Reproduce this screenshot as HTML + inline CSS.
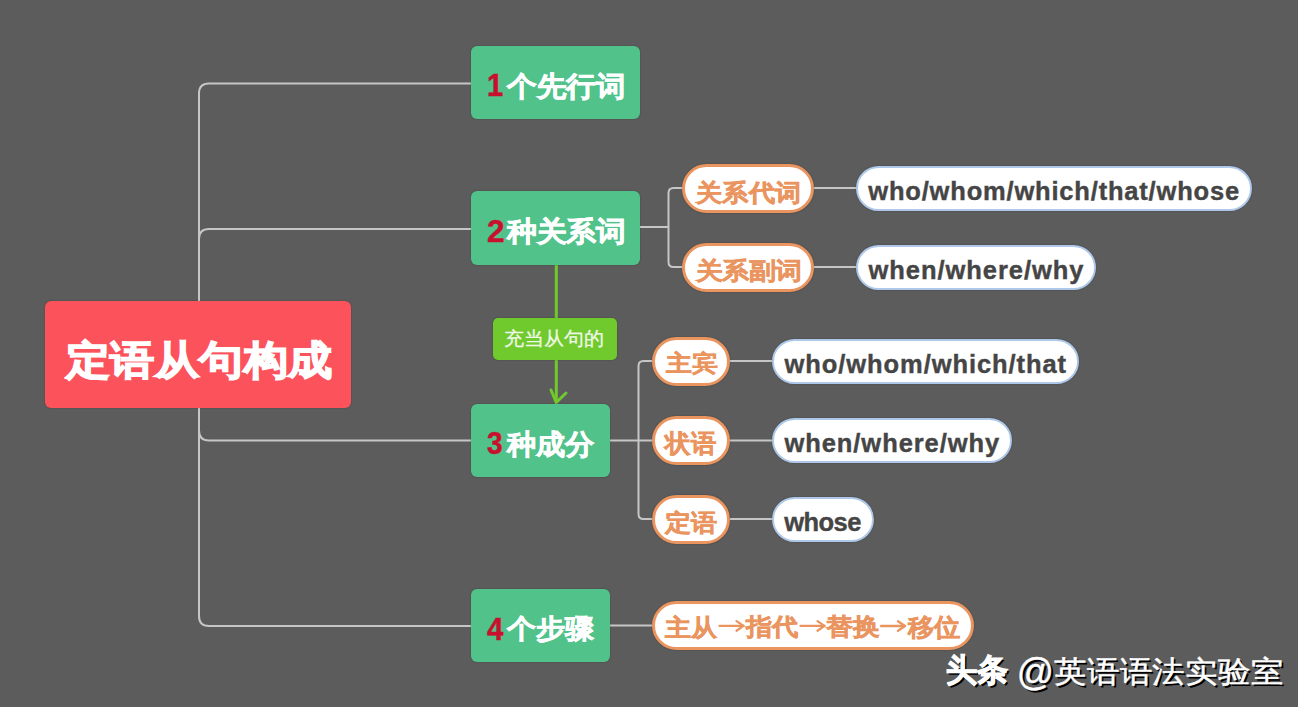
<!DOCTYPE html>
<html><head><meta charset="utf-8">
<style>
html,body{margin:0;padding:0;}
body{width:1306px;height:711px;position:relative;overflow:hidden;background:#fff;font-family:"Liberation Sans",sans-serif;}
#bg{position:absolute;left:0;top:0;width:1298px;height:707px;background:#5c5c5c;}
.n{position:absolute;box-sizing:border-box;box-shadow:0 0 1.5px rgba(0,0,0,.35);}
.t{position:absolute;white-space:nowrap;line-height:1;}
.g{background:#50c28a;border-radius:6px;}
.o{background:#fff;border:3px solid #ea9560;border-radius:30px;}
.w{background:#fff;border:2.5px solid #aec8ea;border-radius:30px;}
svg{position:absolute;left:0;top:0;}
</style></head><body>
<div id="bg"></div>
<svg width="1306" height="711" viewBox="0 0 1306 711">
 <g fill="none" stroke="#c6c6c6" stroke-width="2">
  <path d="M199 301 V93.5 Q199 83.5 209 83.5 H471"/>
  <path d="M199 239 Q199 229 209 229 H471"/>
  <path d="M199 408 V616 Q199 626 209 626 H471"/>
  <path d="M199 430.5 Q199 440.5 209 440.5 H471"/>
  <path d="M640 227 H668.5"/>
  <path d="M682 188 H673.5 Q668.5 188 668.5 193 V262 Q668.5 267 673.5 267 H682"/>
  <path d="M814 188 H856"/>
  <path d="M814 267 H856"/>
  <path d="M610 440.5 H652"/>
  <path d="M652 361 H643.5 Q638.5 361 638.5 366 V514 Q638.5 519 643.5 519 H652"/>
  <path d="M730 361 H772"/>
  <path d="M730 440.5 H772"/>
  <path d="M730 519 H772"/>
  <path d="M610 625.5 H652"/>
 </g>
 <g fill="none" stroke="#70c92d" stroke-width="3" stroke-linecap="round">
  <path d="M556.3 265 V402"/>
  <path d="M551 390 L556.3 402.5 L566 393"/>
 </g>
</svg>

<div class="n" style="left:45px;top:301px;width:306px;height:107px;background:#fc525c;border-radius:6px;"></div>
<div class="n g" style="left:471px;top:46px;width:169px;height:73px;"></div>
<div class="n g" style="left:471px;top:191px;width:169px;height:74px;"></div>
<div class="n g" style="left:471px;top:404px;width:139px;height:73px;"></div>
<div class="n g" style="left:471px;top:589px;width:139px;height:73px;"></div>
<div class="n" style="left:492.5px;top:317.5px;width:124.5px;height:42.3px;background:#70c92d;border-radius:5px;"></div>

<div class="n o" style="left:682px;top:164px;width:132px;height:49px;"></div>
<div class="n o" style="left:682px;top:243px;width:132px;height:49px;"></div>
<div class="n o" style="left:652px;top:337px;width:78px;height:49px;"></div>
<div class="n o" style="left:652px;top:416px;width:78px;height:49px;"></div>
<div class="n o" style="left:652px;top:495px;width:78px;height:49px;"></div>
<div class="n o" style="left:652px;top:601px;width:322px;height:49px;"></div>

<div class="n w" style="left:856px;top:166px;width:396px;height:45px;"></div>
<div class="n w" style="left:856px;top:245px;width:240px;height:45px;"></div>
<div class="n w" style="left:772px;top:339px;width:307px;height:45px;"></div>
<div class="n w" style="left:772px;top:418px;width:240px;height:45px;"></div>
<div class="n w" style="left:772px;top:497px;width:102px;height:45px;"></div>

<svg width="1306" height="711" viewBox="0 0 1306 711">
 <g fill="none" stroke="#ea9560" stroke-width="2.3" stroke-linecap="round" stroke-linejoin="round">
  <path d="M719.5 625.9 H743.5"/><path d="M736.5 621.1 L743.5 625.9 L736.5 630.6999999999999"/>
  <path d="M800.5 625.9 H824.5"/><path d="M817.5 621.1 L824.5 625.9 L817.5 630.6999999999999"/>
  <path d="M881 626 H905"/><path d="M898 621.2 L905 626 L898 630.8"/>
 </g>
</svg>
<div class="t" style="left:66.00px;top:339.80px;color:#fff;font-weight:bold;font-size:45px;-webkit-text-stroke:1.6px currentColor;transform-origin:-2px -2px;transform:scale(0.9875,0.8958);">定语从句构成</div>
<div class="t" style="left:486.70px;top:70.00px;color:#c8102e;font-weight:bold;font-size:31px;-webkit-text-stroke:0.5px currentColor;transform-origin:2px 4px;transform:scale(0.9400,1.0227);">1</div>
<div class="t" style="left:506.90px;top:73.30px;color:#fff;font-weight:bold;-webkit-text-stroke:0.7px currentColor;font-size:30px;transform-origin:-1px -1px;transform:scale(0.9866,0.9355);">个先行词</div>
<div class="t" style="left:487.00px;top:215.10px;color:#c8102e;font-weight:bold;font-size:31px;-webkit-text-stroke:0.5px currentColor;transform-origin:1px 4px;transform:scale(1.0200,1.0318);">2</div>
<div class="t" style="left:506.70px;top:218.30px;color:#fff;font-weight:bold;-webkit-text-stroke:0.7px currentColor;font-size:30px;transform-origin:-1px -1px;transform:scale(0.9882,0.9258);">种关系词</div>
<div class="t" style="left:487.00px;top:428.40px;color:#c8102e;font-weight:bold;font-size:31px;-webkit-text-stroke:0.5px currentColor;transform-origin:1px 4px;transform:scale(0.9000,1.0182);">3</div>
<div class="t" style="left:506.90px;top:431.40px;color:#fff;font-weight:bold;-webkit-text-stroke:0.7px currentColor;font-size:30px;transform-origin:-1px -1px;transform:scale(0.9681,0.9323);">种成分</div>
<div class="t" style="left:486.80px;top:613.00px;color:#c8102e;font-weight:bold;font-size:31px;-webkit-text-stroke:0.5px currentColor;transform-origin:0px 4px;transform:scale(0.9500,1.0364);">4</div>
<div class="t" style="left:507.40px;top:616.00px;color:#fff;font-weight:bold;-webkit-text-stroke:0.7px currentColor;font-size:30px;transform-origin:-1px -1px;transform:scale(0.9670,0.9000);">个步骤</div>
<div class="t" style="left:503.90px;top:329.40px;color:#eef8e4;font-size:20px;-webkit-text-stroke:0.3px currentColor;transform-origin:1px 0px;transform:scale(1.0010,0.9450);">充当从句的</div>
<div class="t" style="left:696.00px;top:180.50px;color:#ea9560;font-weight:bold;-webkit-text-stroke:0.6px currentColor;font-size:27px;transform-origin:-1px -2px;transform:scale(0.9813,0.9036);">关系代词</div>
<div class="t" style="left:696.00px;top:259.50px;color:#ea9560;font-weight:bold;-webkit-text-stroke:0.6px currentColor;font-size:27px;transform-origin:-1px -2px;transform:scale(0.9813,0.8724);">关系副词</div>
<div class="t" style="left:665.50px;top:353.40px;color:#ea9560;font-weight:bold;-webkit-text-stroke:0.6px currentColor;font-size:27px;transform-origin:0px -2px;transform:scale(0.9537,0.8483);">主宾</div>
<div class="t" style="left:665.30px;top:431.10px;color:#ea9560;font-weight:bold;-webkit-text-stroke:0.6px currentColor;font-size:27px;transform-origin:-1px -1px;transform:scale(0.9527,0.9407);">状语</div>
<div class="t" style="left:665.30px;top:511.50px;color:#ea9560;font-weight:bold;-webkit-text-stroke:0.6px currentColor;font-size:27px;transform-origin:-1px -2px;transform:scale(0.9527,0.8759);">定语</div>
<div class="t" style="left:665.10px;top:616.80px;color:#ea9560;font-weight:bold;-webkit-text-stroke:0.6px currentColor;font-size:27px;transform-origin:0px -2px;transform:scale(0.9611,0.8893);">主从</div>
<div class="t" style="left:746.20px;top:616.00px;color:#ea9560;font-weight:bold;-webkit-text-stroke:0.6px currentColor;font-size:27px;transform-origin:-1px -1px;transform:scale(0.9673,0.8857);">指代</div>
<div class="t" style="left:826.20px;top:616.00px;color:#ea9560;font-weight:bold;-webkit-text-stroke:0.6px currentColor;font-size:27px;transform-origin:0px -1px;transform:scale(0.9852,0.8857);">替换</div>
<div class="t" style="left:908.30px;top:616.20px;color:#ea9560;font-weight:bold;-webkit-text-stroke:0.6px currentColor;font-size:27px;transform-origin:-1px -1px;transform:scale(0.9582,0.9148);">移位</div>
<div class="t" style="left:868.30px;top:179.00px;color:#454545;font-weight:bold;font-size:25.5px;-webkit-text-stroke:0.4px currentColor;letter-spacing:0.812px;transform-origin:0px 2px;transform:scale(1.0000,0.9895);">who/whom/which/that/whose</div>
<div class="t" style="left:868.50px;top:258.00px;color:#454545;font-weight:bold;font-size:25.5px;-webkit-text-stroke:0.4px currentColor;letter-spacing:0.946px;transform-origin:0px 2px;transform:scale(1.0000,0.9895);">when/where/why</div>
<div class="t" style="left:784.50px;top:352.00px;color:#454545;font-weight:bold;font-size:25.5px;-webkit-text-stroke:0.4px currentColor;letter-spacing:0.928px;transform-origin:0px 2px;transform:scale(1.0000,0.9895);">who/whom/which/that</div>
<div class="t" style="left:784.50px;top:431.00px;color:#454545;font-weight:bold;font-size:25.5px;-webkit-text-stroke:0.4px currentColor;letter-spacing:0.923px;transform-origin:0px 2px;transform:scale(1.0000,0.9895);">when/where/why</div>
<div class="t" style="left:784.30px;top:510.00px;color:#454545;font-weight:bold;font-size:25.5px;-webkit-text-stroke:0.4px currentColor;letter-spacing:-0.575px;transform-origin:0px 2px;transform:scale(1.0000,0.9895);">whose</div>
<div class="t" style="left:945.50px;top:653.70px;color:#fff;font-weight:bold;font-size:32px;-webkit-text-stroke:1.1px currentColor;transform-origin:0px 0px;transform:scale(0.9766,1.0062);text-shadow:2px 2px 0.5px #000;">头条</div>
<div class="t" style="left:1017.20px;top:652.90px;color:#fff;font-size:34px;-webkit-text-stroke:0.4px currentColor;transform-origin:2px 5px;transform:scale(1.0767,1.1172);text-shadow:2px 2px 0.5px #000;">@</div>
<div class="t" style="left:1054.40px;top:656.00px;color:#fff;font-size:32px;-webkit-text-stroke:0.5px currentColor;transform-origin:0px 0px;transform:scale(1.0251,0.9484);text-shadow:2px 2px 0.5px #000;">英语语法实验室</div>
</body></html>
